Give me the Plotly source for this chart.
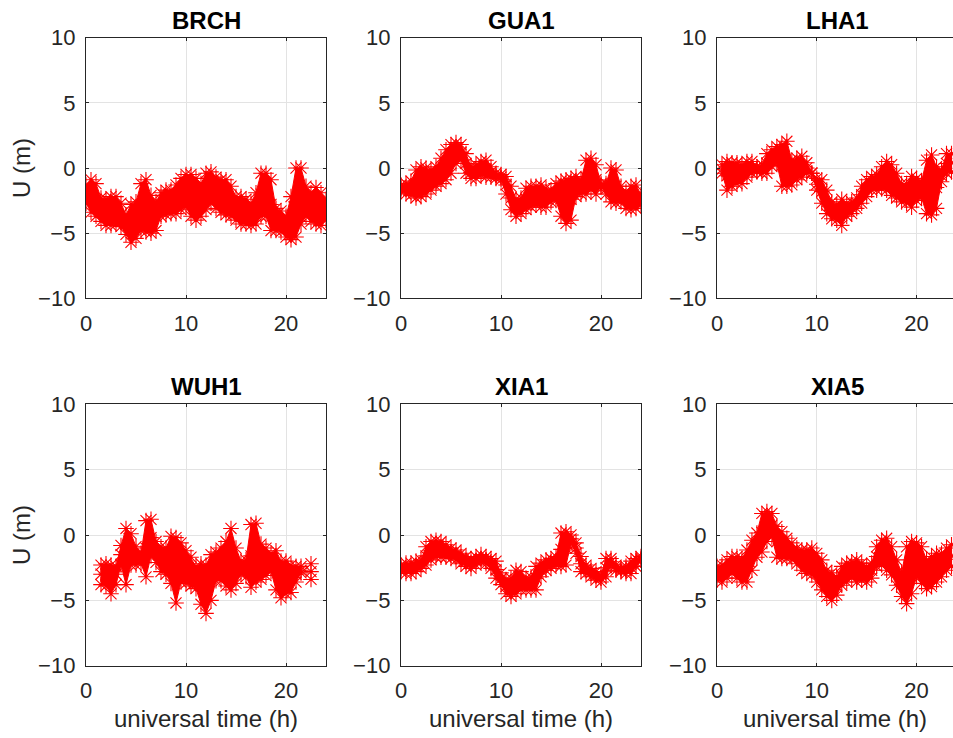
import plotly.graph_objects as go

# ---- sampling times (h) ----
HOURS_FULL = [0, 0.5, 1, 1.5, 2, 2.5, 3, 3.5, 4, 4.5, 5, 5.5, 6, 6.5, 7, 7.5, 8, 8.5,
              9, 9.5, 10, 10.5, 11, 11.5, 12, 12.5, 13, 13.5, 14, 14.5, 15, 15.5, 16,
              16.5, 17, 17.5, 18, 18.5, 19, 19.5, 20, 20.5, 21, 21.5, 22, 22.5, 23,
              23.5, 24]
HOURS_LHA1 = [0.5, 1, 1.5, 2, 2.5, 3, 3.5, 4, 4.5, 5, 5.5, 6, 6.5, 7, 7.5, 8, 8.5,
              9, 9.5, 10, 10.5, 11, 11.5, 12, 12.5, 13, 13.5, 14, 14.5, 15, 15.5, 16,
              16.5, 17, 17.5, 18, 18.5, 19, 19.5, 20, 20.5, 21, 21.5, 22, 22.5, 23, 23.5]
HOURS_XIA5 = [0, 0.5, 1, 1.5, 2, 2.5, 3, 3.5, 4, 4.5, 5, 5.5, 6, 6.5, 7, 7.5, 8, 8.5,
              9, 9.5, 10, 10.5, 11, 11.5, 12, 12.5, 13, 13.5, 14, 14.5, 15, 15.5, 16,
              16.5, 17, 17.5, 18, 18.5, 19, 19.5, 20, 20.5, 21, 21.5, 22, 22.5, 23, 23.5]
HOURS_WUH1 = [1.5, 2, 2.5, 3, 3.5, 4, 4.5, 5, 5.5, 6, 6.5, 7, 7.5, 8, 8.5, 9, 9.5, 10,
              10.5, 11, 11.5, 12, 12.5, 13, 13.5, 14, 14.5, 15, 15.5, 16, 16.5, 17,
              17.5, 18, 18.5, 19, 19.5, 20, 20.5, 21, 21.5, 22, 22.5]

# ---- vertical residuals U (m): upper, central and lower tracks of each station ----
BRCH_HI = [-1.3, -0.9, -1.2, -2.3, -2.4, -2.2, -2.2, -2.7, -3.6, -2.8, -2.6, -1.2, -0.9,
           -2.1, -2.6, -1.9, -1.7, -1.7, -1.3, -0.8, -0.5, -0.5, -0.8, -1.2, -0.4, -0.3,
           -0.7, -0.9, -0.9, -1.4, -2.2, -2.2, -2.4, -2.7, -1.9, -0.4, -0.4, -0.9, -3.1,
           -3.3, -3.7, -2.2, 0.0, 0.0, -1.4, -1.9, -1.5, -1.9, -2.4]
BRCH_MID = [-2.0, -2.1, -2.4, -3.2, -3.4, -3.3, -3.2, -3.6, -4.3, -4.2, -4.0, -3.0, -2.9,
            -3.5, -3.7, -2.8, -2.6, -2.6, -2.4, -2.0, -1.8, -2.1, -2.4, -2.5, -1.8, -1.5,
            -1.9, -2.2, -2.2, -2.5, -3.1, -3.2, -3.3, -3.5, -3.1, -2.0, -2.0, -2.8, -3.9,
            -4.1, -4.5, -3.8, -2.6, -2.1, -2.5, -3.0, -2.9, -3.1, -3.2]
BRCH_LO = [-2.7, -3.4, -3.7, -4.1, -4.4, -4.4, -4.3, -4.5, -5.1, -5.7, -5.4, -4.8, -4.9,
           -5.0, -4.8, -3.7, -3.6, -3.5, -3.5, -3.2, -3.0, -3.7, -4.0, -3.7, -3.2, -2.7,
           -3.1, -3.4, -3.6, -3.7, -4.0, -4.3, -4.3, -4.4, -4.3, -3.7, -3.7, -4.8, -4.8,
           -4.9, -5.3, -5.5, -5.3, -4.3, -3.7, -4.1, -4.3, -4.4, -4.0]

GUA1_HI = [-1.3, -1.2, -1.0, -0.15, 0.1, 0.0, -0.15, 0.1, 0.75, 1.4, 1.8, 1.95, 1.8,
           1.1, 0.1, 0.25, 0.5, 0.6, 0.1, -0.4, -0.5, -0.65, -1.4, -2.4, -2.3, -1.55,
           -1.4, -1.4, -1.3, -1.55, -1.7, -1.2, -1.0, -0.9, -0.8, -0.65, -0.9, 0.6, 0.75,
           0.25, -1.2, -1.2, 0.0, -0.15, -1.4, -1.8, -1.4, -1.3, -2.05]
GUA1_MID = [-1.55, -1.6, -1.55, -1.2, -1.05, -1.0, -0.9, -0.65, -0.2, 0.25, 0.7, 1.15,
            1.2, 0.35, -0.35, -0.3, 0.0, -0.05, -0.3, -0.6, -0.7, -1.3, -2.3, -3.05,
            -2.9, -2.4, -2.2, -2.1, -2.15, -2.3, -2.15, -1.85, -2.35, -2.6, -2.4, -1.4,
            -1.45, -0.7, -0.5, -0.9, -1.3, -1.6, -1.3, -1.4, -2.0, -2.45, -2.3, -2.2, -2.45]
GUA1_LO = [-1.8, -2.0, -2.1, -2.3, -2.2, -2.0, -1.7, -1.4, -1.2, -0.9, -0.4, 0.35, 0.6,
           -0.4, -0.8, -0.8, -0.55, -0.7, -0.7, -0.8, -0.9, -2.0, -3.2, -3.7, -3.5, -3.2,
           -3.0, -2.85, -3.0, -3.0, -2.6, -2.5, -3.7, -4.25, -4.0, -2.2, -2.0, -2.0, -1.7,
           -2.0, -1.4, -2.0, -2.6, -2.7, -2.6, -3.1, -3.2, -3.1, -2.85]

LHA1_HI = [0.25, 0.5, 0.4, 0.4, 0.25, 0.5, 0.5, 0.1, 0.25, 1.1, 1.4, 1.65, 1.8, 2.05,
           0.6, 0.75, 0.9, 0.4, -0.4, -0.8, -0.9, -1.7, -2.6, -2.8, -2.4, -2.7, -2.6,
           -2.3, -1.4, -0.9, -0.65, -0.5, 0.1, 0.5, 0.25, -0.4, -1.2, -1.2, -0.65, -0.8,
           -1.0, 0.6, 1.0, 0.1, -0.15, 1.1, 1.1]
LHA1_MID = [-0.1, -0.6, -0.5, -0.4, -0.5, -0.1, 0.05, -0.1, -0.05, 0.35, 0.75, 1.0, 0.2,
            0.3, -0.35, -0.1, 0.1, 0.0, -0.4, -1.25, -1.8, -2.6, -3.25, -3.4, -3.4, -3.2,
            -3.05, -2.7, -2.05, -1.55, -1.2, -1.1, -0.75, -0.6, -0.9, -1.35, -1.9, -1.95,
            -1.8, -1.65, -1.65, -1.45, -1.3, -1.5, -0.6, 0.35, 0.4]
LHA1_LO = [-0.4, -1.7, -1.4, -1.2, -1.2, -0.7, -0.4, -0.3, -0.4, -0.4, 0.1, 0.35, -1.4,
           -1.4, -1.3, -0.9, -0.7, -0.4, -0.4, -1.7, -2.7, -3.5, -3.9, -4.0, -4.4, -3.7,
           -3.5, -3.1, -2.7, -2.2, -1.7, -1.7, -1.6, -1.7, -2.1, -2.3, -2.6, -2.7, -3.0,
           -2.5, -2.3, -3.5, -3.6, -3.1, -1.05, -0.4, -0.3]

WUH1_HI = [-2.3, -2.2, -2.3, -2.4, -0.8, 0.5, 0.1, -0.9, -1.4, 1.1, 1.2, -0.5, -0.9,
           -1.0, -0.1, -0.2, -0.6, -1.2, -1.7, -2.4, -2.2, -2.3, -1.5, -1.3, -1.0, -0.5,
           0.5, -1.0, -2.0, -1.9, 0.8, 0.9, -0.7, -1.0, -1.4, -1.2, -2.0, -2.0, -2.3,
           -2.4, -2.4, None, -2.2]
WUH1_MID = [-3.0, -3.0, -3.2, -3.0, -1.5, -1.3, -1.1, -1.6, -1.8, -1.0, -0.2, -1.3, -1.9,
            -2.0, -1.8, -2.3, -2.1, -2.5, -2.8, -3.3, -3.8, -4.2, -3.3, -2.4, -2.2, -2.2,
            -1.8, -2.3, -2.5, -2.6, -1.6, -1.2, -2.0, -2.0, -2.1, -2.6, -3.3, -3.2, -3.2,
            -3.0, -2.7, None, -2.8]
WUH1_LO = [-3.8, -3.9, -4.5, -3.8, -2.3, -3.8, -2.3, -2.3, -2.2, -3.2, -1.6, -2.1, -2.8,
           -3.0, -3.7, -5.2, -3.6, -3.7, -3.9, -4.1, -5.3, -6.0, -5.0, -3.5, -3.5, -3.9,
           -4.2, -3.7, -3.0, -3.2, -4.0, -3.6, -3.4, -3.1, -2.8, -4.2, -4.8, -4.5, -4.4,
           -3.6, -2.9, None, -3.4]

XIA1_HI = [-2.3, -2.15, -2.15, -2.0, -1.9, -0.9, -0.5, -0.4, -0.5, -0.75, -1.0, -1.15,
           -1.4, -1.65, -1.8, -1.65, -1.5, -1.65, -1.8, -2.0, -2.9, -3.4, -3.3, -2.7,
           -2.8, -3.3, -3.2, -2.4, -2.15, -1.9, -1.8, -1.65, 0.15, 0.25, 0.0, -0.6, -1.65,
           -2.3, -2.55, -2.8, -3.05, -1.8, -1.8, -2.3, -2.55, -2.4, -2.0, -1.8, -1.65]
XIA1_MID = [-2.55, -2.55, -2.55, -2.4, -2.2, -1.6, -1.2, -1.05, -1.1, -1.2, -1.4, -1.5,
            -1.8, -2.0, -2.2, -2.0, -1.8, -1.9, -2.2, -2.65, -3.35, -3.95, -4.0, -3.6,
            -3.5, -3.75, -3.7, -3.3, -2.7, -2.3, -2.2, -2.0, -1.1, -1.0, -0.3, -1.0, -2.2,
            -2.6, -2.9, -3.1, -3.3, -2.5, -2.05, -2.5, -2.7, -2.7, -2.5, -2.1, -1.8]
XIA1_LO = [-2.8, -2.95, -2.95, -2.8, -2.55, -2.3, -1.9, -1.7, -1.7, -1.7, -1.8, -1.9,
           -2.2, -2.4, -2.55, -2.3, -2.05, -2.2, -2.55, -3.3, -3.8, -4.5, -4.7, -4.5,
           -4.2, -4.2, -4.2, -4.2, -3.2, -2.7, -2.55, -2.3, -2.4, -2.3, -0.65, -1.4, -2.8,
           -2.95, -3.2, -3.45, -3.6, -3.2, -2.3, -2.7, -2.8, -2.95, -2.95, -2.4, -1.9]

XIA5_HI = [-2.4, -2.3, -1.9, -1.65, -1.65, -1.8, -1.15, -0.4, 0.15, 1.65, 1.8, 1.65, 0.65,
           0.25, -0.25, -0.6, -1.0, -1.15, -1.15, -1.0, -1.4, -1.9, -2.7, -2.9, -3.2,
           -2.4, -2.15, -2.05, -1.9, -2.15, -2.4, -2.15, -0.9, -0.4, -0.25, -0.9, -1.9,
           -2.9, -0.9, -0.5, -0.6, -0.9, -1.9, -1.65, -1.4, -1.4, -1.0, -0.75]
XIA5_MID = [-2.9, -2.95, -2.6, -2.3, -2.5, -2.7, -2.4, -1.55, -0.8, 0.2, 0.65, 0.75, -0.5,
            -0.8, -1.0, -1.25, -1.6, -1.9, -2.05, -2.0, -2.5, -3.05, -3.7, -3.95, -3.9,
            -3.1, -2.9, -2.7, -2.75, -2.8, -3.0, -2.7, -1.65, -1.35, -1.45, -2.0, -2.9,
            -3.8, -3.1, -2.5, -1.9, -2.3, -3.0, -2.8, -2.5, -2.3, -1.85, -1.6]
XIA5_LO = [-3.45, -3.6, -3.3, -2.95, -3.3, -3.6, -3.6, -2.7, -1.7, -1.3, -0.5, -0.15, -1.7,
           -1.8, -1.8, -1.9, -2.2, -2.7, -2.95, -3.05, -3.6, -4.2, -4.7, -5.0, -4.6,
           -3.85, -3.6, -3.3, -3.6, -3.45, -3.6, -3.3, -2.4, -2.3, -2.7, -3.05, -3.85,
           -4.7, -5.25, -4.5, -3.2, -3.7, -4.1, -3.95, -3.6, -3.2, -2.7, -2.4]

STATIONS = ["BRCH", "GUA1", "LHA1", "WUH1", "XIA1", "XIA5"]
STATION_DATA = {
    "BRCH": (HOURS_FULL, BRCH_HI, BRCH_MID, BRCH_LO),
    "GUA1": (HOURS_FULL, GUA1_HI, GUA1_MID, GUA1_LO),
    "LHA1": (HOURS_LHA1, LHA1_HI, LHA1_MID, LHA1_LO),
    "WUH1": (HOURS_WUH1, WUH1_HI, WUH1_MID, WUH1_LO),
    "XIA1": (HOURS_FULL, XIA1_HI, XIA1_MID, XIA1_LO),
    "XIA5": (HOURS_XIA5, XIA5_HI, XIA5_MID, XIA5_LO),
}
Y_TICKS = [-10, -5, 0, 5, 10]
X_TICKS = [0, 10, 20]

# ---- page geometry (pixels) ----
W, H = 953, 738
COL_PX = [(86, 326, 24.0), (401, 641, 24.0), (717, 953, 23.65)]
ROW_PX = [(37.7, 298.3), (404.3, 665.7)]

FONT = "Liberation Sans, Arial, Helvetica, sans-serif"
AX_COLOR = "#262626"
GRID_COLOR = "#e3e3e3"
RED = "#ff0000"

fig = go.Figure()
annotations = []


def contiguous(t, hi, lo):
    """Split the tracks into runs without gaps so each run gets its own shaded band."""
    runs, cur = [], ([], [], [])
    for ti, h, l in zip(t, hi, lo):
        if h is None or l is None:
            if len(cur[0]) > 1:
                runs.append(cur)
            cur = ([], [], [])
            continue
        cur[0].append(ti)
        cur[1].append(h)
        cur[2].append(l)
    if len(cur[0]) > 1:
        runs.append(cur)
    return runs


for i, name in enumerate(STATIONS):
    row, col = divmod(i, 3)
    n = i + 1
    xa = "x" if n == 1 else f"x{n}"
    ya = "y" if n == 1 else f"y{n}"
    t, hi, mid, lo = STATION_DATA[name]
    for arr in (hi, mid, lo):
        if len(arr) != len(t):
            raise ValueError(f"{name}: length mismatch")

    # dense cloud of samples: shaded between the lower and upper tracks
    for rt, rh, rl in contiguous(t, hi, lo):
        fig.add_trace(go.Scatter(
            x=rt, y=rl, mode="lines", line=dict(color=RED, width=1),
            xaxis=xa, yaxis=ya, showlegend=False, hoverinfo="skip",
        ))
        fig.add_trace(go.Scatter(
            x=rt, y=rh, mode="lines", line=dict(color=RED, width=1),
            fill="tonexty", fillcolor=RED,
            xaxis=xa, yaxis=ya, showlegend=False, hoverinfo="skip",
        ))

    # asterisk markers for the individual epochs
    fig.add_trace(go.Scatter(
        x=list(t) * 3,
        y=list(hi) + list(mid) + list(lo),
        mode="markers",
        marker=dict(symbol="asterisk-open", size=13, color=RED,
                    line=dict(color=RED, width=1.1)),
        xaxis=xa, yaxis=ya, showlegend=False, hoverinfo="skip",
    ))

    x0, x1, xmax = COL_PX[col]
    y0, y1 = ROW_PX[row]
    xdom = [x0 / W, min(x1 / W, 1.0)]
    ydom = [1 - y1 / H, 1 - y0 / H]
    last_col = col == 2

    xkey = "xaxis" if n == 1 else f"xaxis{n}"
    ykey = "yaxis" if n == 1 else f"yaxis{n}"
    fig.layout[xkey] = dict(
        domain=xdom, anchor=ya, range=[0, xmax], automargin=False,
        tickmode="array", tickvals=X_TICKS,
        showgrid=True, gridcolor=GRID_COLOR, gridwidth=1,
        zeroline=False, showline=True, linecolor=AX_COLOR, linewidth=1.3,
        mirror="ticks", ticks="inside", ticklen=3, tickcolor=AX_COLOR,
        tickfont=dict(family=FONT, size=22, color=AX_COLOR),
        ticklabelstandoff=5, fixedrange=True,
        title=dict(text="universal time (h)" if row == 1 else "",
                   font=dict(family=FONT, size=24, color=AX_COLOR), standoff=7),
    )
    fig.layout[ykey] = dict(
        domain=ydom, anchor=xa, range=[-10, 10], automargin=False,
        tickmode="array", tickvals=Y_TICKS,
        showgrid=True, gridcolor=GRID_COLOR, gridwidth=1,
        zeroline=False, showline=True, linecolor=AX_COLOR, linewidth=1.3,
        mirror=(False if last_col else "ticks"), ticks="inside", ticklen=3,
        tickcolor=AX_COLOR,
        tickfont=dict(family=FONT, size=22, color=AX_COLOR),
        ticklabelstandoff=5, fixedrange=True,
        title=dict(text="U (m)" if col == 0 else "",
                   font=dict(family=FONT, size=24, color=AX_COLOR), standoff=0),
    )

    annotations.append(dict(
        text=f"<b>{name}</b>", x=(x0 + 120) / W,
        y=ydom[1], xref="paper", yref="paper", xanchor="center", yanchor="bottom",
        yshift=2, showarrow=False,
        font=dict(family=FONT, size=24, color="#000000"),
    ))

fig.update_layout(
    width=W, height=H,
    margin=dict(l=0, r=0, t=0, b=0),
    paper_bgcolor="white", plot_bgcolor="white",
    annotations=annotations,
    hovermode=False,
)

fig.write_html("out.html", config={"displayModeBar": False})
